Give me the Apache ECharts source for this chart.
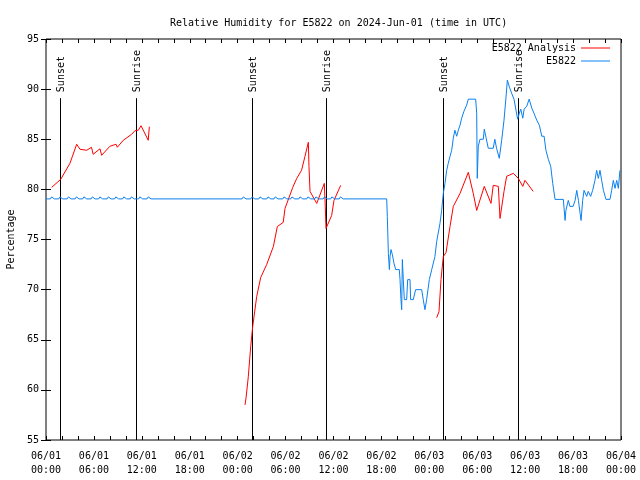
<!DOCTYPE html>
<html>
<head>
<meta charset="utf-8">
<script src="https://cdn.jsdelivr.net/npm/echarts@6/dist/echarts.min.js"></script>
<style>html,body{margin:0;padding:0;background:#fff}#c{width:640px;height:480px}</style>
</head>
<body>
<div id="c"></div>
<script>
// x values are hours since 2024-06-01 00:00 UTC
const tickLabels = ['06/01\n00:00','06/01\n06:00','06/01\n12:00','06/01\n18:00','06/02\n00:00','06/02\n06:00','06/02\n12:00','06/02\n18:00','06/03\n00:00','06/03\n06:00','06/03\n12:00','06/03\n18:00','06/04\n00:00'];
const sunTimes = [1.79, 11.23, 25.83, 35.1, 49.75, 59.14];
const sunLabels = ['Sunset','Sunrise','Sunset','Sunrise','Sunset','Sunrise'];

const analysisA = [[0.71,80.2],[1.84,81.0],[3.0,82.6],[3.84,84.5],[4.26,84.0],[5.1,83.9],[5.7,84.2],[5.9,83.5],[6.76,84.05],[6.97,83.4],[8.0,84.3],[8.77,84.5],[8.93,84.2],[9.68,84.9],[10.73,85.5],[11.14,85.85],[11.56,85.9],[11.9,86.35],[12.8,84.9],[12.94,86.25]];
const analysisB = [[24.92,58.5],[25.05,59.2],[25.33,61.3],[25.63,64.3],[25.88,66.3],[26.38,69.3],[26.88,71.2],[27.63,72.5],[28.47,74.3],[28.97,76.3],[29.7,76.7],[29.93,78.1],[30.9,80.2],[31.4,81.1],[32.0,81.9],[32.43,83.3],[32.85,84.7],[32.93,82.3],[33.06,79.8],[33.9,78.6],[34.85,80.6],[34.97,78.3],[35.06,76.1],[35.77,77.4],[36.06,78.9],[36.9,80.4]];
const analysisC = [[48.92,67.2],[49.21,67.8],[49.46,71.0],[49.75,73.3],[50.09,73.7],[50.59,76.3],[51.0,78.3],[51.84,79.6],[52.88,81.7],[53.5,79.6],[53.93,77.9],[54.88,80.3],[55.72,78.6],[56.0,80.4],[56.64,80.3],[56.85,77.1],[57.35,79.8],[57.68,81.3],[58.52,81.6],[59.14,81.1],[59.7,80.3],[59.98,80.9],[61.0,79.8]];

const stationA = [[0.0,79.05],[0.55,79.05],[0.7,79.25],[0.9,79.25],[1.05,79.05],[1.6,79.05],[1.75,79.25],[1.95,79.25],[2.1,79.05],[2.65,79.05],[2.8,79.25],[3.0,79.25],[3.15,79.05],[3.65,79.05],[3.8,79.25],[4.0,79.25],[4.15,79.05],[4.6,79.05],[4.75,79.25],[4.95,79.25],[5.1,79.05],[5.65,79.05],[5.8,79.25],[6.0,79.25],[6.15,79.05],[6.6,79.05],[6.75,79.25],[6.95,79.25],[7.1,79.05],[7.65,79.05],[7.8,79.25],[8.0,79.25],[8.15,79.05],[8.6,79.05],[8.75,79.25],[8.95,79.25],[9.1,79.05],[9.6,79.05],[9.75,79.25],[9.95,79.25],[10.1,79.05],[10.55,79.05],[10.7,79.25],[10.9,79.25],[11.05,79.05],[11.6,79.05],[11.75,79.25],[11.95,79.25],[12.1,79.05],[12.65,79.05],[12.8,79.25],[13.0,79.25],[13.15,79.05],
 [24.55,79.05],[24.7,79.25],[24.9,79.25],[25.05,79.05],[25.65,79.05],[25.8,79.25],[26.0,79.25],[26.15,79.05],[26.65,79.05],[26.8,79.25],[27.0,79.25],[27.15,79.05],[27.65,79.05],[27.8,79.25],[28.0,79.25],[28.15,79.05],[28.55,79.05],[28.7,79.25],[28.9,79.25],[29.05,79.05],[29.65,79.05],[29.8,79.25],[30.0,79.25],[30.15,79.05],[30.65,79.05],[30.8,79.25],[31.0,79.25],[31.15,79.05],[31.65,79.05],[31.8,79.25],[32.0,79.25],[32.15,79.05],[32.65,79.05],[32.8,79.25],[33.0,79.25],[33.15,79.05],[33.65,79.05],[33.8,79.25],[34.0,79.25],[34.15,79.05],[34.72,79.05],[34.87,79.25],[35.07,79.25],[35.22,79.05],[35.65,79.05],[35.8,79.25],[36.0,79.25],[36.15,79.05],[36.72,79.05],[36.87,79.25],[37.07,79.25],[37.22,79.05]];
const stationB = [[42.66,79.05],[42.74,77.3],[42.87,73.6],[43.0,72.0],[43.08,73.3],[43.2,74.0],[43.37,73.5],[43.58,72.6],[43.79,72.0],[44.24,72.0],[44.33,71.0],[44.45,69.0],[44.54,68.0],[44.62,73.0],[44.74,71.0],[44.87,69.0],[45.16,69.0],[45.29,71.0],[45.58,71.0],[45.66,69.0],[45.99,69.0],[46.28,70.0],[47.04,70.0],[47.24,69.0],[47.45,68.0],[47.66,69.0],[48.0,71.0],[48.3,72.0],[48.5,72.0],[48.7,73.3],[48.92,74.8],[49.33,76.6],[49.54,77.9],[49.75,79.6],[49.96,80.6],[50.17,81.9],[50.37,82.6],[50.59,83.3],[50.8,83.9],[51.0,85.1],[51.2,85.9],[51.42,85.3],[51.63,85.9],[51.84,86.4],[52.05,87.1],[52.34,87.8],[52.67,88.4],[52.88,89.0],[53.8,89.0],[53.93,87.6],[54.0,81.1],[54.13,84.3],[54.34,85.0],[54.76,85.0],[54.88,86.0],[55.09,85.2],[55.38,84.1],[55.6,84.0],[56.0,84.1],[56.2,85.0],[56.42,84.1],[56.76,83.1],[57.06,84.9],[57.35,86.9],[57.6,89.2],[57.77,90.9],[58.03,90.2],[58.3,89.6],[58.6,89.0],[58.85,87.9],[59.06,87.0],[59.27,87.6],[59.45,88.0],[59.7,87.1],[59.87,88.0],[60.2,88.3],[60.5,89.0],[60.83,88.1],[61.1,87.6],[61.45,86.9],[61.78,86.4],[62.08,85.3],[62.37,85.3],[62.6,83.9],[62.9,83.0],[63.2,82.3],[63.45,80.6],[63.74,79.0],[64.78,79.0],[65.0,76.9],[65.1,77.9],[65.4,78.9],[65.6,78.3],[66.0,78.3],[66.25,78.9],[66.46,79.9],[66.67,78.9],[66.88,77.6],[67.0,76.9],[67.2,78.9],[67.37,79.9],[67.7,79.3],[67.9,79.8],[68.2,79.3],[68.45,79.9],[68.74,80.9],[68.95,81.9],[69.16,81.1],[69.37,81.9],[69.58,80.9],[69.8,79.9],[70.12,79.0],[70.62,79.0],[70.83,79.9],[71.04,80.9],[71.25,80.1],[71.46,80.9],[71.67,80.1],[71.87,81.9]];

const FONT = 'DejaVu Sans Mono';
const RED = '#ff0000';
const BLUE = '#0a80f0';
const stationData = stationA.concat(stationB);

const chart = echarts.init(document.getElementById('c'), null, {renderer: 'canvas'});
const xBase = {
  type: 'value', min: 0, max: 72, interval: 2,
  axisLine: {show: false},
  splitLine: {show: false},
  axisTick: {show: true, inside: true, length: 4, lineStyle: {color: '#000'}}
};
const yBase = {
  type: 'value', min: 55, max: 95, interval: 5,
  axisLine: {show: false},
  splitLine: {show: false},
  axisTick: {show: true, inside: true, length: 5, lineStyle: {color: '#000'}}
};
const lineStyleCommon = {width: 1};
chart.setOption({
  animation: false,
  backgroundColor: '#fff',
  title: {
    text: 'Relative Humidity for E5822 on 2024-Jun-01 (time in UTC)',
    left: 165, top: 13,
    textStyle: {fontFamily: FONT, fontSize: 10, fontWeight: 'normal', color: '#000'}
  },
  grid: {left: 46, right: 19, top: 39, bottom: 40, show: true, borderColor: '#000', borderWidth: 1,
         backgroundColor: 'transparent', containLabel: false, outerBoundsMode: 'none'},
  legend: [
    {data: ['E5822 Analysis'], right: 30, top: 43, align: 'right', icon: 'rect', itemWidth: 29, itemHeight: 1,
     textStyle: {fontFamily: FONT, fontSize: 10, color: '#000'}, padding: 0},
    {data: ['E5822'], right: 30, top: 56, align: 'right', icon: 'rect', itemWidth: 29, itemHeight: 1,
     textStyle: {fontFamily: FONT, fontSize: 10, color: '#000'}, padding: 0}
  ],
  xAxis: [
    Object.assign({}, xBase, {position: 'bottom',
      axisLabel: {show: true, margin: 9, fontFamily: FONT, fontSize: 10, color: '#000', lineHeight: 14,
        formatter: v => (v % 6 === 0 ? tickLabels[v / 6] : '')}}),
    Object.assign({}, xBase, {position: 'top', axisLabel: {show: false}})
  ],
  yAxis: [
    Object.assign({}, yBase, {position: 'left',
      name: 'Percentage', nameLocation: 'middle', nameGap: 30,
      nameTextStyle: {fontFamily: FONT, fontSize: 10, color: '#000'},
      axisLabel: {show: true, margin: 7, fontFamily: FONT, fontSize: 10, color: '#000'}}),
    Object.assign({}, yBase, {position: 'right', axisLabel: {show: false}})
  ],
  series: [
    {
      type: 'custom', name: 'sun', silent: true, z: 1,
      data: sunTimes.map(t => [t, 55]),
      renderItem: function (params, api) {
        const t = api.value(0);
        const p0 = api.coord([t, 55]);
        const p1 = api.coord([t, 89.1]);
        const x = Math.round(p0[0]) + 0.5;
        return {
          type: 'group',
          children: [
            {type: 'line', shape: {x1: x, y1: p0[1], x2: x, y2: p1[1]}, style: {stroke: '#000', lineWidth: 1}},
            {type: 'text', x: x + 0.5, y: p1[1] - 6, rotation: Math.PI / 2,
             style: {text: sunLabels[params.dataIndex], fontFamily: FONT, fontSize: 10, fill: '#000', align: 'left', verticalAlign: 'middle'}}
          ]
        };
      }
    },
    {type: 'line', name: 'E5822 Analysis', data: analysisA, showSymbol: false, color: RED, lineStyle: Object.assign({color: RED}, lineStyleCommon), z: 3},
    {type: 'line', name: 'E5822 Analysis', data: analysisB, showSymbol: false, color: RED, lineStyle: Object.assign({color: RED}, lineStyleCommon), z: 3},
    {type: 'line', name: 'E5822 Analysis', data: analysisC, showSymbol: false, color: RED, lineStyle: Object.assign({color: RED}, lineStyleCommon), z: 3},
    {type: 'line', name: 'E5822', data: stationData, showSymbol: false, color: BLUE, lineStyle: Object.assign({color: BLUE}, lineStyleCommon), z: 4}
  ]
});
</script>
</body>
</html>
